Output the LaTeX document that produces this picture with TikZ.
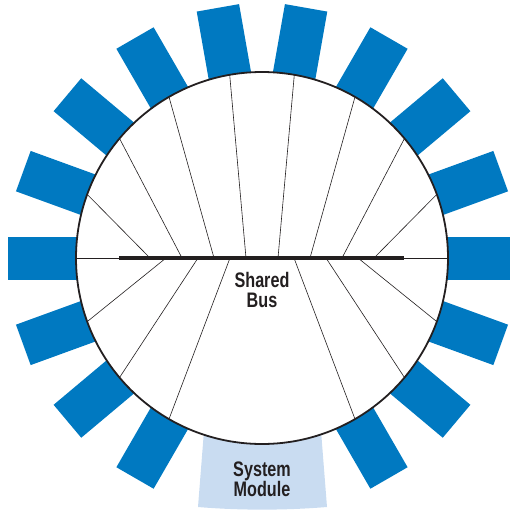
\documentclass[tikz,border=0pt]{standalone}
\usepackage{fontspec}
\newfontfamily\labelfont[FakeStretch=0.77]{Liberation Sans}

\definecolor{modBlue}{HTML}{0079C1}
\definecolor{sysBg}{HTML}{C9DCF1}
\definecolor{ink}{HTML}{231F20}

\begin{document}
\begin{tikzpicture}[x=1pt, y=1pt,
    spoke/.style={ink, line width=0.6pt},
    tag/.style={font=\labelfont\bfseries\fontsize{21}{20.5}\selectfont, text=ink, align=center, inner sep=0pt}]
    \clip (-262,-251) rectangle (248,258);

    % system module
    \fill[sysBg] (-57,-160) -- (-64,-249) .. controls (-22,-252.5) and (22,-252.5) .. (65,-249)
      -- (58,-160) -- cycle;

    % plug-in modules
    \foreach \a in {0,20,...,240,300,320,340}
      \fill[modBlue, rotate=\a] (178,-21.5) rectangle (254,21.5);

    % backplane
    \fill[white] (0,0) circle (186);
    \draw[ink, line width=1.8pt] (0,0) circle (186);

    % spokes to the bus
    \coordinate (w) at (180:186);
    \coordinate (e) at (0:186);
    \draw[spoke] (w) -- (e);
    \foreach \a/\x in {20/112,40/80,60/48,80/16,100/-16,120/-48,140/-80,160/-112,
                       200/-96,220/-64,240/-32,300/32,320/64,340/96} {
      \coordinate (rim\a) at (\a:186);
      \coordinate (tap\a) at (\x,0);
      \draw[spoke] (rim\a) -- (tap\a);
    }

    % shared bus
    \coordinate (busW) at (-143,0);
    \coordinate (busE) at (142,0);
    \draw[ink, line width=4pt] (busW) -- (busE);

    % labels
    \node[tag] (bus) at (0,-32) {Shared\\Bus};
    \node[tag] (sys) at (0,-221.5) {System\\Module};
\end{tikzpicture}
\end{document}
